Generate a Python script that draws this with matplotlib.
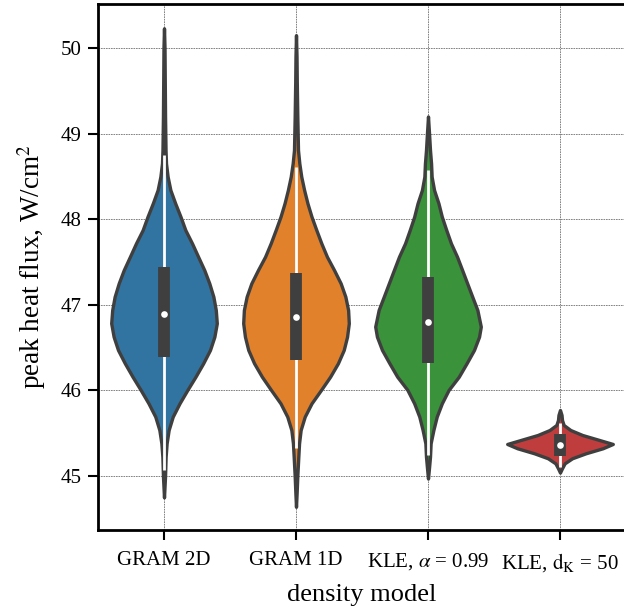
import numpy as np
import matplotlib
matplotlib.use("Agg")
import matplotlib.pyplot as plt

plt.rcParams["font.family"] = ["Liberation Serif", "DejaVu Serif"]
plt.rcParams["mathtext.fontset"] = "stix"

# Category labels
models = ["GRAM 2D", "GRAM 1D", r"KLE, $\alpha$ = 0.99", r"KLE, $\mathrm{d_K}$ = 50"]
colors = ["#3274a1", "#e1812c", "#3a923a", "#c03d3e"]

# Shared levels (W/cm^2) at which the violin bodies are tabulated
body_y = [48.808, 48.653, 48.497, 48.341, 48.186, 48.029, 47.874, 47.718, 47.562,
          47.407, 47.251, 47.095, 46.939, 46.784, 46.627, 46.472, 46.317, 46.160,
          46.005, 45.849, 45.693, 45.537, 45.382, 45.225]

# Violin profiles: levels and relative density (1 = widest)
gram2d_y = [50.23, 50.00, 49.60, 49.20] + body_y + [45.00, 44.75]
gram2d_d = [0.0, 0.010, 0.015, 0.020,
            0.029, 0.038, 0.069, 0.121, 0.212, 0.313, 0.404, 0.531, 0.646,
            0.762, 0.858, 0.935, 0.981, 1.000, 0.954, 0.871, 0.742, 0.596,
            0.442, 0.294, 0.165, 0.088, 0.050, 0.031,
            0.020, 0.0]

gram1d_y = [50.15, 49.90, 49.60, 49.20] + body_y + [45.00, 44.80, 44.64]
gram1d_d = [0.0, 0.010, 0.015, 0.025,
            0.038, 0.063, 0.100, 0.154, 0.217, 0.294, 0.385, 0.480, 0.586,
            0.720, 0.846, 0.935, 0.987, 1.000, 0.967, 0.904, 0.794, 0.646,
            0.473, 0.294, 0.165, 0.088, 0.058, 0.044,
            0.025, 0.012, 0.0]

kle_y = [49.20, 49.00] + body_y[:14] + [46.745] + body_y[14:] + [45.10, 44.97]
kle_d = [0.0, 0.020,
         0.038, 0.058, 0.069, 0.115, 0.198, 0.262, 0.346, 0.435, 0.550,
         0.646, 0.742, 0.838, 0.935, 0.987, 1.000, 0.967, 0.871, 0.731,
         0.583, 0.390, 0.262, 0.165, 0.102, 0.050, 0.038,
         0.020, 0.0]

kled_y = [45.771, 45.713, 45.654, 45.596, 45.537, 45.479, 45.421, 45.374,
          45.324, 45.265, 45.207, 45.148, 45.090, 45.040]
kled_d = [0.0, 0.029, 0.038, 0.069, 0.198, 0.423, 0.742, 1.000,
          0.810, 0.487, 0.230, 0.088, 0.038, 0.0]

profiles = [(gram2d_y, gram2d_d), (gram1d_y, gram1d_d), (kle_y, kle_d), (kled_y, kled_d)]

# Box statistics: lower whisker, q1, median, q3, upper whisker
whisk_lo = [45.07, 45.33, 45.25, 45.11]
q1 = [46.39, 46.36, 46.32, 45.23]
median = [46.89, 46.86, 46.80, 45.36]
q3 = [47.44, 47.37, 47.32, 45.49]
whisk_hi = [48.75, 48.61, 48.58, 45.62]

edge = "#3f3f3f"
half_width = 0.4

fig = plt.figure(figsize=(6.24, 6.08), dpi=100)
ax = fig.add_axes([98 / 624, 1 - 530 / 608, 528 / 624, 526 / 608])
ax.set_axisbelow(True)
ax.grid(True, color="#707070", linestyle=(0, (2, 1)), linewidth=0.6)

for i, ((ys, ds), col) in enumerate(zip(profiles, colors)):
    ys = np.asarray(ys)
    ds = np.asarray(ds) * half_width
    ax.fill_betweenx(ys, i - ds, i + ds, facecolor=col, edgecolor=edge,
                     linewidth=2.4, joinstyle="round", zorder=2)
    ax.plot([i, i], [whisk_lo[i], whisk_hi[i]], color="white", lw=2.0,
            solid_capstyle="butt", zorder=3)
    ax.plot([i, i], [q1[i], q3[i]], color=edge, lw=8.5,
            solid_capstyle="butt", zorder=4)
    ax.plot(i, median[i], "o", color="white", ms=4.8, mec="none", zorder=5)

ax.set_xlim(-0.5, 3.5)
ax.set_ylim(44.369, 50.514)
ax.set_xticks(range(len(models)))
ax.set_xticklabels(models)
ax.set_yticks([45, 46, 47, 48, 49, 50])
ax.tick_params(axis="both", labelsize=15, width=1.5, length=7.2, direction="out")
ax.tick_params(axis="x", pad=8)
ax.tick_params(axis="y", pad=4.5)
for s in ax.spines.values():
    s.set_linewidth(2.0)
    s.set_color("black")

ax.set_xlabel("density model", fontsize=19, labelpad=7)
ax.set_ylabel(r"peak heat flux, W/cm$^2$", fontsize=19.5, labelpad=9)

fig.savefig("out.png", dpi=100)
